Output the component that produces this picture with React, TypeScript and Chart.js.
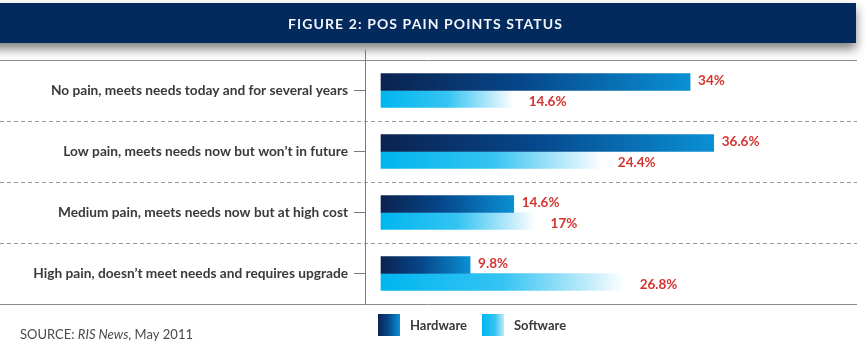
import { useEffect, useRef } from "react";
import { Chart, registerables } from "chart.js";

Chart.register(...registerables);

const title = "FIGURE 2: POS PAIN POINTS STATUS";
const categories = [
  "No pain, meets needs today and for several years",
  "Low pain, meets needs now but won’t in future",
  "Medium pain, meets needs now but at high cost",
  "High pain, doesn’t meet needs and requires upgrade",
];
const seriesNames = ["Hardware", "Software"];
const hardware = [34, 36.6, 14.6, 9.8];
const software = [14.6, 24.4, 17, 26.8];
const sourceParts = ["SOURCE: ", "RIS News", ", May 2011"];

const FONT = "Lato, 'Open Sans', sans-serif";
const NAVY = "#022a5c";
const VALUE_RED = "#d4342f";
const TEXT_DARK = "#3a3a3a";

const fmt = (v: number) => `${v}%`;

function hardwareFill(ctx: CanvasRenderingContext2D, x0: number, x1: number) {
  const g = ctx.createLinearGradient(x0, 0, x1, 0);
  g.addColorStop(0, "#0b2350");
  g.addColorStop(0.45, "#06468a");
  g.addColorStop(1, "#0a90d4");
  return g;
}

function softwareFill(ctx: CanvasRenderingContext2D, x0: number, x1: number) {
  const g = ctx.createLinearGradient(x0, 0, x1, 0);
  g.addColorStop(0, "#00b6ef");
  g.addColorStop(0.5, "#35c4f2");
  g.addColorStop(0.82, "#b5e8fa");
  g.addColorStop(1, "#ffffff");
  return g;
}

// banner, separators, legend and source line around the plot
const framePlugin = {
  id: "frame",
  beforeDraw(chart: any) {
    const { ctx, chartArea, scales } = chart;
    const right = chartArea.right;
    ctx.save();
    ctx.fillStyle = "#ffffff";
    ctx.fillRect(0, 0, chart.width, chart.height);

    // title banner with drop shadow
    ctx.save();
    ctx.shadowColor = "rgba(0,0,0,0.5)";
    ctx.shadowBlur = 10;
    ctx.shadowOffsetY = 6;
    ctx.fillStyle = NAVY;
    ctx.fillRect(-20, 3, right - 1 + 20, 40);
    ctx.restore();

    ctx.fillStyle = "#f2f5f9";
    ctx.font = `bold 14px ${FONT}`;
    (ctx as any).letterSpacing = "1.1px";
    ctx.textAlign = "center";
    ctx.textBaseline = "middle";
    ctx.fillText(title, right / 2 - 3, 24);
    (ctx as any).letterSpacing = "0px";

    // solid top / bottom rules
    ctx.strokeStyle = "#8a8a8a";
    ctx.lineWidth = 1;
    ctx.beginPath();
    ctx.moveTo(0, chartArea.top + 0.5);
    ctx.lineTo(right, chartArea.top + 0.5);
    ctx.moveTo(0, chartArea.bottom + 0.5);
    ctx.lineTo(right, chartArea.bottom + 0.5);
    ctx.stroke();

    // vertical axis rule reaches up into the banner shadow
    ctx.strokeStyle = "#7a7a7a";
    ctx.beginPath();
    ctx.moveTo(chartArea.left + 0.5, 50);
    ctx.lineTo(chartArea.left + 0.5, chartArea.top);
    ctx.stroke();

    // dashed separators between categories
    const y = scales.y;
    ctx.strokeStyle = "#9a9a9a";
    ctx.setLineDash([4, 3]);
    ctx.beginPath();
    for (let i = 1; i < categories.length; i++) {
      const yy = Math.round((y.getPixelForValue(i - 1) + y.getPixelForValue(i)) / 2) + 0.5;
      ctx.moveTo(0, yy);
      ctx.lineTo(right, yy);
    }
    ctx.stroke();
    ctx.setLineDash([]);
    ctx.restore();
  },
  afterDatasetsDraw(chart: any) {
    const { ctx } = chart;
    ctx.save();
    ctx.font = `bold 13.5px ${FONT}`;
    ctx.fillStyle = VALUE_RED;
    ctx.textAlign = "left";
    ctx.textBaseline = "middle";
    chart.data.datasets.forEach((ds: any, di: number) => {
      const meta = chart.getDatasetMeta(di);
      meta.data.forEach((bar: any, i: number) => {
        const dx = di === 0 ? 8 : 15;
        const dy = di === 0 ? -1 : 3;
        ctx.fillText(fmt(ds.data[i]), bar.x + dx, bar.y + dy);
      });
    });
    ctx.restore();
  },
  afterDraw(chart: any) {
    const { ctx } = chart;
    ctx.save();
    // legend
    const sw = 22;
    const ly = 314;
    const items = [
      { x: 378, fill: hardwareFill(ctx, 378, 378 + sw), name: seriesNames[0] },
      { x: 482, fill: softwareFill(ctx, 482, 482 + sw + 4), name: seriesNames[1] },
    ];
    ctx.font = `bold 13px ${FONT}`;
    ctx.textAlign = "left";
    ctx.textBaseline = "middle";
    items.forEach((it) => {
      ctx.fillStyle = it.fill;
      ctx.fillRect(it.x, ly, sw, sw);
      ctx.fillStyle = TEXT_DARK;
      ctx.fillText(it.name, it.x + sw + 10, ly + sw / 2 + 1);
    });

    // source line
    ctx.fillStyle = "#4a4a4a";
    ctx.textBaseline = "alphabetic";
    let sx = 20;
    const sy = 339;
    sourceParts.forEach((part, i) => {
      ctx.font = `${i === 1 ? "italic " : ""}13px ${FONT}`;
      ctx.fillText(part, sx, sy);
      sx += ctx.measureText(part).width;
    });
    ctx.restore();
  },
};

export default function App() {
  const canvasRef = useRef<HTMLCanvasElement | null>(null);

  useEffect(() => {
    const canvas = canvasRef.current;
    if (!canvas) return;

    const gradientFor = (kind: number) => (c: any) => {
      const chart = c.chart;
      const x = chart.scales?.x;
      if (!chart.chartArea || !x || typeof c.raw !== "number") {
        return kind === 0 ? "#06468a" : "#00b6ef";
      }
      const x0 = x.getPixelForValue(0);
      const x1 = x.getPixelForValue(c.raw);
      return kind === 0 ? hardwareFill(chart.ctx, x0, x1) : softwareFill(chart.ctx, x0, x1);
    };

    const chart = new Chart(canvas, {
      type: "bar",
      data: {
        labels: categories,
        datasets: [
          {
            label: seriesNames[0],
            data: hardware,
            backgroundColor: gradientFor(0),
            borderWidth: 0,
            barThickness: 17,
            categoryPercentage: 0.64,
          },
          {
            label: seriesNames[1],
            data: software,
            backgroundColor: gradientFor(1),
            borderWidth: 0,
            barThickness: 17,
            categoryPercentage: 0.64,
          },
        ],
      },
      options: {
        indexAxis: "y",
        responsive: false,
        animation: false,
        events: [],
        layout: { padding: { top: 60, bottom: 37, right: 8, left: 0 } },
        plugins: {
          legend: { display: false },
          tooltip: { enabled: false },
          title: { display: false },
        },
        scales: {
          x: {
            display: false,
            min: -1.76,
            max: 52.36,
          },
          y: {
            afterFit: (scale: any) => {
              scale.width = 365;
            },
            grid: {
              display: true,
              offset: false,
              drawOnChartArea: false,
              drawTicks: true,
              tickLength: 11,
              color: "#7a7a7a",
              lineWidth: 1,
            },
            border: { display: true, color: "#7a7a7a", width: 1 },
            ticks: {
              color: TEXT_DARK,
              padding: 6,
              font: { family: FONT, size: 13.7, weight: "bold" },
            },
          },
        },
      },
      plugins: [framePlugin],
    } as any);

    return () => chart.destroy();
  }, []);

  return (
    <div
      style={{
        position: "fixed",
        left: 0,
        top: 0,
        width: 865,
        height: 341,
        background: "#ffffff",
        overflow: "hidden",
      }}
    >
      <canvas ref={canvasRef} width={865} height={341} style={{ display: "block" }} />
    </div>
  );
}
